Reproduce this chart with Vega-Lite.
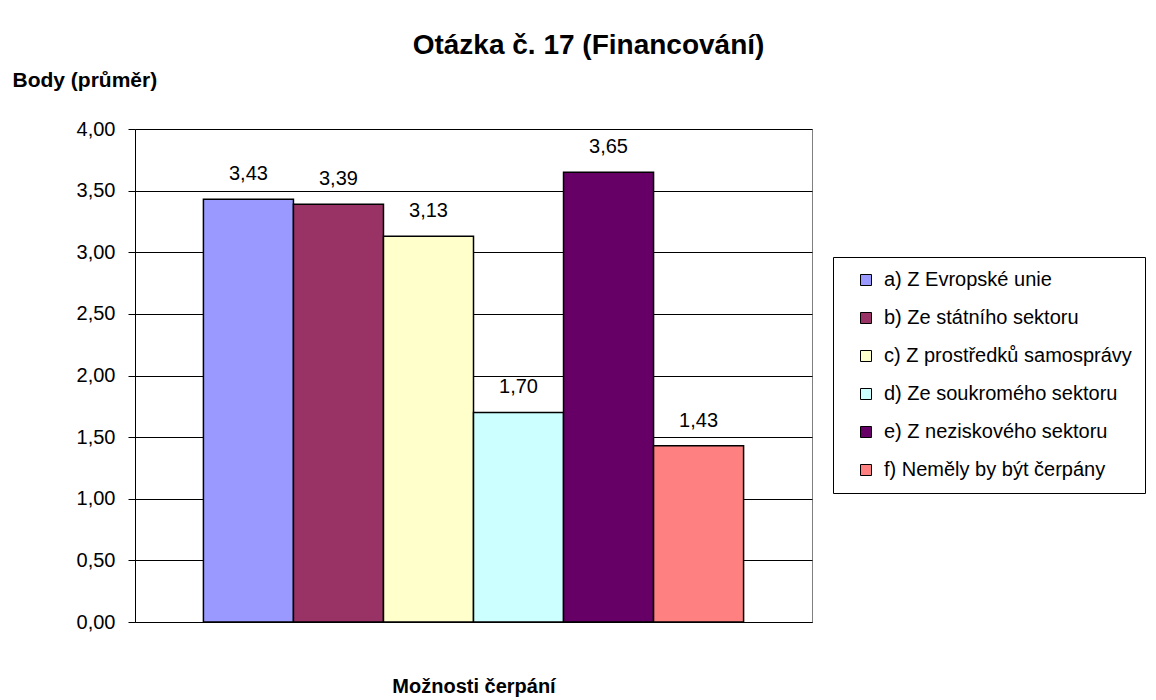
{
  "$schema": "https://vega.github.io/schema/vega-lite/v6.json",
  "width": 677,
  "height": 493,
  "autosize": {"type": "none"},
  "padding": {"left": 135, "top": 129, "right": 344, "bottom": 78},
  "background": "white",
  "title": {
    "text": "Otázka č. 17 (Financování)",
    "font": "Liberation Sans",
    "fontSize": 28,
    "fontWeight": "bold",
    "color": "#000",
    "anchor": "middle",
    "frame": "group",
    "dx": 115,
    "dy": 27,
    "baseline": "alphabetic",
    "offset": 14
  },
  "data": {
    "values": [
      {"category": "a) Z Evropské unie", "value": 3.43},
      {"category": "b) Ze státního sektoru", "value": 3.39},
      {"category": "c) Z prostředků samosprávy", "value": 3.13},
      {"category": "d) Ze soukromého sektoru", "value": 1.70},
      {"category": "e) Z neziskového sektoru", "value": 3.65},
      {"category": "f) Neměly by být čerpány", "value": 1.43}
    ]
  },
  "encoding": {
    "x": {
      "field": "category",
      "type": "nominal",
      "sort": null,
      "scale": {"paddingInner": 0, "paddingOuter": 0.76},
      "axis": {
        "labels": false,
        "ticks": false,
        "domainColor": "#000",
        "domainWidth": 1,
        "title": "Možnosti čerpání",
        "titleFont": "Liberation Sans",
        "titleFontSize": 20,
        "titleFontWeight": "bold",
        "titleColor": "#000",
        "titleY": 70,
        "titleBaseline": "alphabetic"
      }
    },
    "y": {
      "field": "value",
      "type": "quantitative",
      "scale": {"domain": [0, 4], "nice": false},
      "axis": {
        "values": [0, 0.5, 1, 1.5, 2, 2.5, 3, 3.5, 4],
        "format": ".2f",
        "labelFont": "Liberation Sans",
        "labelFontSize": 20,
        "labelColor": "#000",
        "labelPadding": 13,
        "tickSize": 7,
        "tickColor": "#000",
        "domainColor": "#000",
        "grid": true,
        "gridColor": "#000",
        "gridWidth": 1,
        "title": "Body (průměr)",
        "titleFont": "Liberation Sans",
        "titleFontSize": 21,
        "titleFontWeight": "bold",
        "titleColor": "#000",
        "titleAngle": 0,
        "titleX": -123,
        "titleY": -43,
        "titleAlign": "left",
        "titleBaseline": "alphabetic"
      }
    }
  },
  "layer": [
    {
      "mark": {"type": "bar", "stroke": "#000", "strokeWidth": 1.5},
      "encoding": {
        "color": {
          "field": "category",
          "type": "nominal",
          "sort": null,
          "scale": {
            "domain": ["a) Z Evropské unie", "b) Ze státního sektoru", "c) Z prostředků samosprávy", "d) Ze soukromého sektoru", "e) Z neziskového sektoru", "f) Neměly by být čerpány"],
            "range": ["#9999FF", "#993366", "#FFFFCC", "#CCFFFF", "#660066", "#FF8080"]
          },
          "legend": {
            "title": null,
            "orient": "none",
            "legendX": 698,
            "legendY": 128,
            "padding": 13,
            "strokeColor": "#000",
            "fillColor": "#fff",
            "symbolType": "square",
            "symbolSize": 121,
            "symbolStrokeColor": "#000",
            "symbolStrokeWidth": 1,
            "symbolOpacity": 1,
            "symbolOffset": 10,
            "labelOffset": 8,
            "labelFont": "Liberation Sans",
            "labelFontSize": 20,
            "labelColor": "#000",
            "labelLimit": 400,
            "rowPadding": 18
          }
        }
      }
    },
    {
      "mark": {"type": "text", "baseline": "alphabetic", "dy": -19, "font": "Liberation Sans", "fontSize": 20, "color": "#000"},
      "encoding": {
        "text": {"field": "value", "type": "quantitative", "format": ".2f"}
      }
    }
  ],
  "config": {
    "locale": {
      "number": {"decimal": ",", "thousands": " ", "grouping": [3], "currency": ["", " Kč"]}
    },
    "view": {"stroke": "#808080", "strokeWidth": 1}
  }
}
